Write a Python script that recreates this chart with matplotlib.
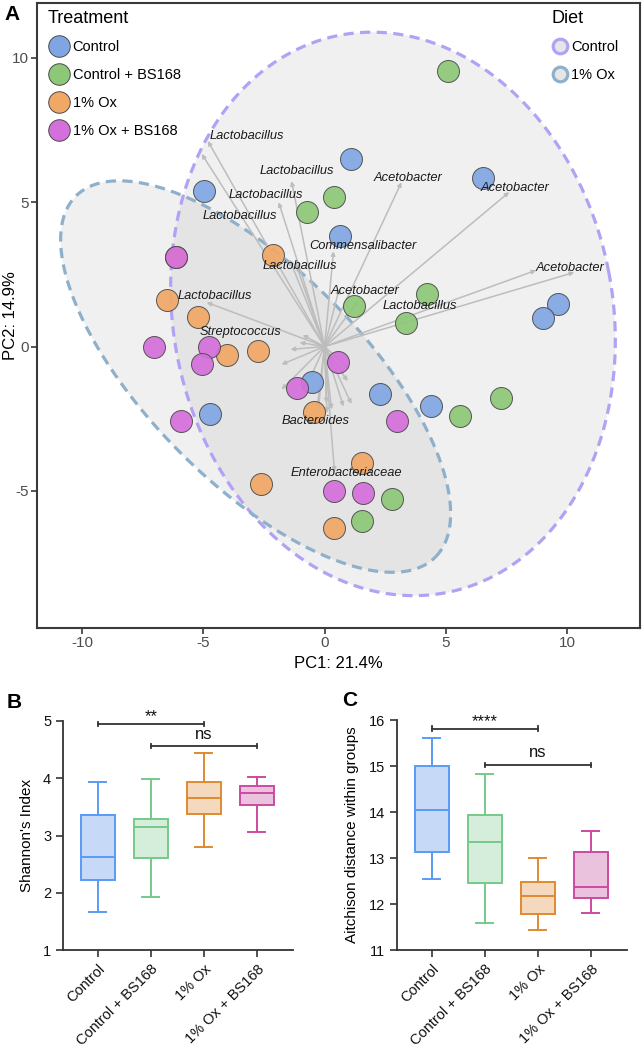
import numpy as np
import matplotlib
matplotlib.use('Agg')
import matplotlib.pyplot as plt
from matplotlib.lines import Line2D

plt.rcParams['font.family'] = ['Liberation Sans', 'DejaVu Sans']
plt.rcParams['axes.unicode_minus'] = False

# ---------------- Panel A data ----------------
groups = ['Control', 'Control + BS168', '1% Ox', '1% Ox + BS168']
group_colors = ['#7FA6E2', '#8DC878', '#F2A865', '#D56FDB']

ctrl_x = [-4.98, 1.07, 6.54, 0.62, 9.63, 9.01, -0.50, -4.73, 2.30, 4.40]
ctrl_y = [5.38, 6.49, 5.83, 3.82, 1.46, 1.00, -1.22, -2.33, -1.63, -2.05]
cbs_x = [-0.74, 0.41, 5.10, 4.24, 1.23, 3.37, 7.28, 5.60, 2.76, 1.56]
cbs_y = [4.65, 5.17, 9.55, 1.81, 1.42, 0.80, -1.77, -2.40, -5.28, -6.04]
ox_x = [-6.13, -2.14, -6.50, -5.23, -4.03, -2.76, -0.45, -2.63, 1.56, 0.37]
ox_y = [3.09, 3.16, 1.60, 1.04, -0.31, -0.14, -2.26, -4.76, -4.03, -6.28]
oxbs_x = [-6.13, -7.04, -4.77, -5.06, -1.15, -5.93, 0.56, 3.00, 0.41, 1.60]
oxbs_y = [3.09, -0.03, -0.03, -0.60, -1.42, -2.57, -0.53, -2.57, -5.00, -5.07]

diet_names = ['Control', '1% Ox']
diet_colors = ['#B3A1F6', '#8EB0CA']
ellipse_cx = [2.82, -2.84]
ellipse_cy = [1.13, -1.04]
ellipse_u = [(8.89, 1.46), (7.41, -6.25)]   # conjugate semi-axis vectors
ellipse_v = [(-2.22, 9.65), (3.11, 2.63)]

arrow_tip_x = [-4.81, -5.06, -1.36, -1.89, 0.37, -1.44, -1.20, 3.17, 7.61, 10.29,
               8.72, 1.40, -4.86, -1.03, 0.41, -1.77, -1.77, 1.03, 1.11, 0.78,
               0.29, -0.25, 0.08, -0.60, -0.30, 0.95, -0.90, 0.60, -1.40, 0.10]
arrow_tip_y = [7.12, 6.67, 5.73, 5.00, 3.30, 3.02, 2.90, 5.69, 5.35, 2.57,
               2.64, 1.60, 1.53, 0.14, -4.34, -0.62, -1.49, -0.79, -1.99, -2.08,
               -2.18, -2.14, -1.96, -1.10, -2.10, -1.20, 0.40, 2.00, -0.10, -2.30]

label_text = ['Lactobacillus', 'Lactobacillus', 'Lactobacillus', 'Lactobacillus',
              'Commensalibacter', 'Lactobacillus', 'Acetobacter', 'Acetobacter',
              'Acetobacter', 'Acetobacter', 'Lactobacillus', 'Lactobacillus',
              'Streptococcus', 'Bacteroides', 'Enterobacteriaceae']
label_x = [-3.21, -1.15, -2.43, -3.50, 1.60, -1.03, 3.42, 7.86, 10.12, 1.65,
           3.91, -4.53, -3.46, -0.37, 0.91]
label_y = [7.29, 6.08, 5.24, 4.51, 3.47, 2.78, 5.83, 5.49, 2.71, 1.94,
           1.39, 1.74, 0.49, -2.57, -4.38]

pc1_label = 'PC1: 21.4%'
pc2_label = 'PC2: 14.9%'

# ---------------- Panels B / C data ----------------
box_groups = ['Control', 'Control + BS168', '1% Ox', '1% Ox + BS168']
box_edge = ['#5A9BF6', '#76C98A', '#E08A30', '#CC4AA0']
box_fill = ['#C6DAF8', '#D5EEDB', '#F4D9BF', '#EBC2DE']

shannon_min = [1.67, 1.93, 2.80, 3.06]
shannon_q1 = [2.22, 2.60, 3.37, 3.54]
shannon_med = [2.62, 3.14, 3.66, 3.75]
shannon_q3 = [3.35, 3.29, 3.93, 3.86]
shannon_max = [3.94, 3.98, 4.44, 4.03]

aitch_min = [12.54, 11.58, 11.43, 11.81]
aitch_q1 = [13.12, 12.46, 11.78, 12.14]
aitch_med = [14.04, 13.35, 12.17, 12.38]
aitch_q3 = [14.99, 13.93, 12.47, 13.12]
aitch_max = [15.60, 14.83, 13.01, 13.59]

sig_pairs = [(0, 2), (1, 3)]
shannon_sig_y = [4.95, 4.56]
shannon_sig_txt = ['**', 'ns']
aitch_sig_y = [15.81, 15.02]
aitch_sig_txt = ['****', 'ns']

# ---------------- Figure ----------------
W, H = 644, 1049
fig = plt.figure(figsize=(W / 100, H / 100), dpi=100)


def rect(l, t, r, b):
    return [l / W, 1 - b / H, (r - l) / W, (b - t) / H]


axA = fig.add_axes(rect(37, 3, 640, 628))
axA.set_xlim(-11.85, 13.0)
axA.set_ylim(-9.75, 11.9)

tt = np.linspace(0, 2 * np.pi, 400)
for i in range(2):
    ex = ellipse_cx[i] + ellipse_u[i][0] * np.cos(tt) + ellipse_v[i][0] * np.sin(tt)
    ey = ellipse_cy[i] + ellipse_u[i][1] * np.cos(tt) + ellipse_v[i][1] * np.sin(tt)
    axA.fill(ex, ey, color='#BDBDBD', alpha=0.22, lw=0, zorder=1)
    axA.plot(ex, ey, color=diet_colors[i], lw=2.3, ls=(0, (3.2, 2.0)), zorder=2)

for tx, ty in zip(arrow_tip_x, arrow_tip_y):
    axA.annotate('', xy=(tx, ty), xytext=(0, 0),
                 arrowprops=dict(arrowstyle='-|>', color='#BDBDBD', lw=1.1,
                                 mutation_scale=6, shrinkA=0, shrinkB=0),
                 zorder=3)

series = [(ctrl_x, ctrl_y), (cbs_x, cbs_y), (ox_x, ox_y), (oxbs_x, oxbs_y)]
for (xs, ys), c in zip(series, group_colors):
    axA.scatter(xs, ys, s=250, c=c, edgecolors='#4A4A4A', linewidths=0.7,
                alpha=0.92, zorder=4)

for t, x, y in zip(label_text, label_x, label_y):
    axA.text(x, y, t, style='italic', fontsize=9.3, ha='center', va='center',
             color='#1A1A1A', zorder=5)

axA.set_xticks([-10, -5, 0, 5, 10])
axA.set_yticks([-5, 0, 5, 10])
for s in axA.spines.values():
    s.set_color('#3A3A3A')
    s.set_linewidth(1.5)
axA.tick_params(direction='out', length=4, width=1.2, colors='#3A3A3A',
                labelcolor='#4D4D4D', labelsize=11, pad=2)
axA.set_xlabel(pc1_label, fontsize=12, labelpad=4)
axA.set_ylabel(pc2_label, fontsize=12)
axA.yaxis.set_label_coords(-0.031, 0.5)

h1 = [Line2D([], [], marker='o', ls='', markersize=15.5, markerfacecolor=c,
             markeredgecolor='#4A4A4A', markeredgewidth=0.7) for c in group_colors]
leg1 = axA.legend(h1, groups, loc='upper left', bbox_to_anchor=(0.007, 1.0),
                  frameon=False, fontsize=10.5, title='Treatment',
                  title_fontsize=13, alignment='left', handletextpad=0.1,
                  labelspacing=0.95, borderpad=0.35, handlelength=1.6,
                  borderaxespad=0.1)
axA.add_artist(leg1)
h2 = [Line2D([], [], marker='o', ls='', markersize=10.5, markerfacecolor='#E6E6E6',
             markeredgecolor=c, markeredgewidth=2.3) for c in diet_colors]
leg2 = axA.legend(h2, diet_names, loc='upper right', bbox_to_anchor=(0.975, 1.0),
                  frameon=False, fontsize=10.5, title='Diet', title_fontsize=13,
                  alignment='left', handletextpad=0.15, labelspacing=0.95,
                  borderpad=0.35, handlelength=1.2, borderaxespad=0.1)


def box_panel(ax, mins, q1s, meds, q3s, maxs, ylim, yticks, ylabel, sig_y, sig_txt,
              h, label_x):
    stats = []
    for lo, a, m, b, hi, lab in zip(mins, q1s, meds, q3s, maxs, box_groups):
        stats.append(dict(whislo=lo, q1=a, med=m, q3=b, whishi=hi, label=lab, fliers=[]))
    bp = ax.bxp(stats, positions=range(len(stats)), widths=0.64, capwidths=0.32,
                patch_artist=True, showfliers=False)
    for i in range(len(stats)):
        bp['boxes'][i].set(facecolor=box_fill[i], edgecolor=box_edge[i], linewidth=1.4)
        bp['medians'][i].set(color=box_edge[i], linewidth=1.4)
        for k in (2 * i, 2 * i + 1):
            bp['whiskers'][k].set(color=box_edge[i], linewidth=1.4)
            bp['caps'][k].set(color=box_edge[i], linewidth=1.4)
    ax.set_xlim(-0.66, 3.68)
    ax.set_ylim(*ylim)
    ax.set_yticks(yticks)
    ax.spines['top'].set_visible(False)
    ax.spines['right'].set_visible(False)
    for s in ('left', 'bottom'):
        ax.spines[s].set_color('#333333')
        ax.spines[s].set_linewidth(1.3)
    ax.tick_params(direction='out', length=5, width=1.2, colors='#333333',
                   labelcolor='#111111', labelsize=10.5)
    ax.set_xticks(range(len(box_groups)))
    ax.set_xticklabels(box_groups, rotation=45, ha='right', rotation_mode='anchor',
                       fontsize=10.5)
    ax.set_ylabel(ylabel, fontsize=11)
    ax.yaxis.set_label_coords(label_x, 0.5)
    for (a, b), y, txt in zip(sig_pairs, sig_y, sig_txt):
        ax.plot([a, b], [y, y], color='#333333', lw=1.3, clip_on=False)
        for xx in (a, b):
            ax.plot([xx, xx], [y - h, y + h], color='#333333', lw=1.3, clip_on=False)
        off = 0.0 if txt.startswith('*') else h * 2
        ax.text((a + b) / 2, y + off, txt, ha='center', va='bottom', fontsize=12,
                color='#111111', clip_on=False)


axB = fig.add_axes(rect(63, 721, 293, 950))
box_panel(axB, shannon_min, shannon_q1, shannon_med, shannon_q3, shannon_max,
          (1, 5), [1, 2, 3, 4, 5], "Shannon's Index", shannon_sig_y, shannon_sig_txt,
          0.04, -0.125)

axC = fig.add_axes(rect(397, 720, 627, 950))
box_panel(axC, aitch_min, aitch_q1, aitch_med, aitch_q3, aitch_max,
          (11, 16), [11, 12, 13, 14, 15, 16], 'Aitchison distance within groups',
          aitch_sig_y, aitch_sig_txt, 0.05, -0.165)

fig.text(12 / W, 1 - 14 / H, 'A', fontsize=15, fontweight='bold', ha='center', va='center')
fig.text(14 / W, 1 - 703 / H, 'B', fontsize=15, fontweight='bold', ha='center', va='center')
fig.text(350 / W, 1 - 700 / H, 'C', fontsize=15, fontweight='bold', ha='center', va='center')

fig.savefig('out.png', dpi=100)
